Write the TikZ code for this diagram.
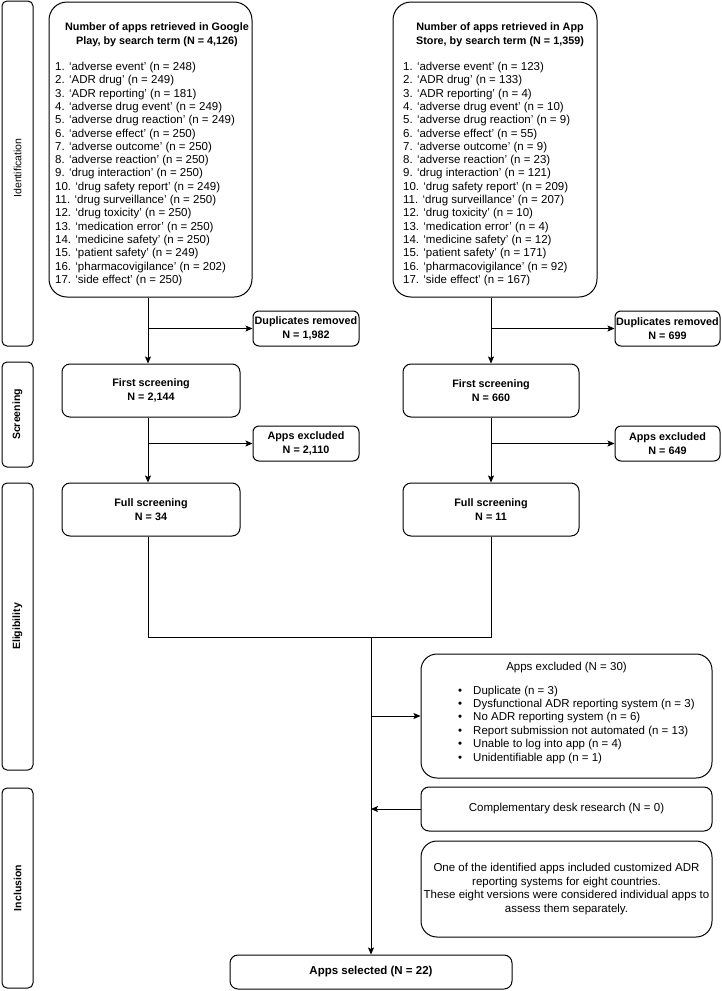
\documentclass[tikz,border=0pt]{standalone}
\usepackage{fontspec}
\setmainfont{Liberation Sans}
\usetikzlibrary{arrows.meta}
\newcommand{\rg}{\fontsize{11.5}{13.3}\selectfont}
\newcommand{\bd}{\fontsize{10.8}{14.5}\selectfont\bfseries}
\tikzset{
  frame/.style={draw, line width=1pt, inner sep=0pt},
  bigbox/.style={frame, rounded corners=18pt},
  midbox/.style={frame, rounded corners=8pt},
  smallbox/.style={frame, rounded corners=6pt},
  labbox/.style={frame, rounded corners=5pt, minimum width=31pt},
  labtxt/.style={rotate=90, inner sep=0pt, font=\fontsize{10.5}{12}\selectfont},
  txt/.style={inner sep=0pt, align=center},
  arr/.style={-{Stealth[length=7pt,width=6pt,inset=1.5pt]}, line width=0.9pt},
  ln/.style={line width=0.9pt},
}
\begin{document}
\begin{tikzpicture}[x=1pt,y=-1pt]
\useasboundingbox (0,0) rectangle (721,991);
% phase labels
\node[labbox, minimum height=345pt] (lid) at (17.5,173.5) {};
\node[labtxt] (lidt) at (17.5,168) {Identification};
\node[labbox, minimum height=105pt] (lsc) at (17.5,414.5) {};
\node[labtxt, font=\fontsize{10.5}{12}\selectfont\bfseries] (lsct) at (lsc.center) {Screening};
\node[labbox, minimum height=287pt] (lel) at (17.5,626.5) {};
\node[labtxt, font=\fontsize{10.5}{12}\selectfont\bfseries] (lelt) at (lel.center) {Eligibility};
\node[labbox, minimum height=200pt] (lin) at (17.5,888) {};
\node[labtxt, font=\fontsize{10.5}{12}\selectfont\bfseries] (lint) at (lin.center) {Inclusion};
% top boxes
\node[bigbox, minimum width=203pt, minimum height=295pt] (gp) at (150.5,149.5) {};
\node[txt, anchor=north, font=\bd] (gph) at (157,22) {Number of apps retrieved in Google\\Play, by search term (N = 4,126)};
\node[txt, anchor=north west, align=left, font=\rg] (gpl) at (55,62) {%
1. ‘adverse event’ (n = 248)\\
2. ‘ADR drug’ (n = 249)\\
3. ‘ADR reporting’ (n = 181)\\
4. ‘adverse drug event’ (n = 249)\\
5. ‘adverse drug reaction’ (n = 249)\\
6. ‘adverse effect’ (n = 250)\\
7. ‘adverse outcome’ (n = 250)\\
8. ‘adverse reaction’ (n = 250)\\
9. ‘drug interaction’ (n = 250)\\
10. ‘drug safety report’ (n = 249)\\
11. ‘drug surveillance’ (n = 250)\\
12. ‘drug toxicity’ (n = 250)\\
13. ‘medication error’ (n = 250)\\
14. ‘medicine safety’ (n = 250)\\
15. ‘patient safety’ (n = 249)\\
16. ‘pharmacovigilance’ (n = 202)\\
17. ‘side effect’ (n = 250)};
\node[bigbox, minimum width=204pt, minimum height=295pt] (as) at (495,149.5) {};
\node[txt, anchor=north, font=\bd] (ash) at (500,22) {Number of apps retrieved in App\\Store, by search term (N = 1,359)};
\node[txt, anchor=north west, align=left, font=\rg] (asl) at (403,62) {%
1. ‘adverse event’ (n = 123)\\
2. ‘ADR drug’ (n = 133)\\
3. ‘ADR reporting’ (n = 4)\\
4. ‘adverse drug event’ (n = 10)\\
5. ‘adverse drug reaction’ (n = 9)\\
6. ‘adverse effect’ (n = 55)\\
7. ‘adverse outcome’ (n = 9)\\
8. ‘adverse reaction’ (n = 23)\\
9. ‘drug interaction’ (n = 121)\\
10. ‘drug safety report’ (n = 209)\\
11. ‘drug surveillance’ (n = 207)\\
12. ‘drug toxicity’ (n = 10)\\
13. ‘medication error’ (n = 4)\\
14. ‘medicine safety’ (n = 12)\\
15. ‘patient safety’ (n = 171)\\
16. ‘pharmacovigilance’ (n = 92)\\
17. ‘side effect’ (n = 167)};
% trunk coordinates
\coordinate (t1) at (148,0);
\coordinate (t2) at (491,0);
\coordinate (m) at (371,637);
% side boxes
\node[smallbox, minimum width=106pt, minimum height=35pt, font=\bd, txt] (dup1) at (306,328.5) {Duplicates removed\\N = 1,982};
\node[smallbox, minimum width=105pt, minimum height=35pt, font=\bd, txt] (dup2) at (667.5,328.5) {Duplicates removed\\N = 699};
\node[midbox, minimum width=178pt, minimum height=53pt, font=\bd, txt] (fs1) at (151,390.5) {First screening\\N = 2,144};
\node[midbox, minimum width=176pt, minimum height=53pt, font=\bd, txt] (fs2) at (491,390.5) {First screening\\N = 660};
\node[smallbox, minimum width=106pt, minimum height=35pt, font=\bd, txt] (ex1) at (306,443.5) {Apps excluded\\N = 2,110};
\node[smallbox, minimum width=105pt, minimum height=35pt, font=\bd, txt] (ex2) at (667.5,443.5) {Apps excluded\\N = 649};
\node[midbox, minimum width=178pt, minimum height=53pt, font=\bd, txt] (fu1) at (151,509.5) {Full screening\\N = 34};
\node[midbox, minimum width=176pt, minimum height=53pt, font=\bd, txt] (fu2) at (491,509.5) {Full screening\\N = 11};
% exclusion box
\node[frame, rounded corners=16pt, minimum width=291pt, minimum height=124pt] (exc) at (566.5,716) {};
\node[txt, anchor=north, font=\rg] (exch) at (566.5,662) {Apps excluded (N = 30)};
\node[txt, anchor=north west, align=left, font=\fontsize{11.5}{13.4}\selectfont] (excl) at (458,685.5) {%
\makebox[15pt][l]{•}Duplicate (n = 3)\\
\makebox[15pt][l]{•}Dysfunctional ADR reporting system (n = 3)\\
\makebox[15pt][l]{•}No ADR reporting system (n = 6)\\
\makebox[15pt][l]{•}Report submission not automated (n = 13)\\
\makebox[15pt][l]{•}Unable to log into app (n = 4)\\
\makebox[15pt][l]{•}Unidentifiable app (n = 1)};
\node[midbox, minimum width=291pt, minimum height=44pt, font=\rg, txt] (comp) at (566.5,809) {Complementary desk research (N = 0)};
\node[frame, rounded corners=16pt, minimum width=291pt, minimum height=96pt, font=\fontsize{11.5}{13.8}\selectfont, txt] (note) at (566.5,889) {One of the identified apps included customized ADR\\reporting systems for eight countries.\\These eight versions were considered individual apps to\\assess them separately.};
\node[midbox, minimum width=282pt, minimum height=34pt, font=\fontsize{11.5}{14}\selectfont\bfseries, txt] (sel) at (371,972) {Apps selected (N = 22)};
% connectors
\draw[arr] (gp.south -| t1) -- (fs1.north -| t1);
\draw[arr] (as.south -| t2) -- (fs2.north -| t2);
\draw[arr] (t1 |- dup1.west) -- (dup1.west);
\draw[arr] (t2 |- dup2.west) -- (dup2.west);
\draw[arr] (fs1.south -| t1) -- (fu1.north -| t1);
\draw[arr] (fs2.south -| t2) -- (fu2.north -| t2);
\draw[arr] (t1 |- ex1.west) -- (ex1.west);
\draw[arr] (t2 |- ex2.west) -- (ex2.west);
\draw[ln] (fu1.south -| t1) -- (t1 |- m) -- (t2 |- m) -- (fu2.south -| t2);
\draw[arr] (m) -- (sel.north);
\draw[arr] (m |- exc.west) -- (exc.west);
\draw[arr] (comp.west) -- (m |- comp.west);
\end{tikzpicture}
\end{document}
